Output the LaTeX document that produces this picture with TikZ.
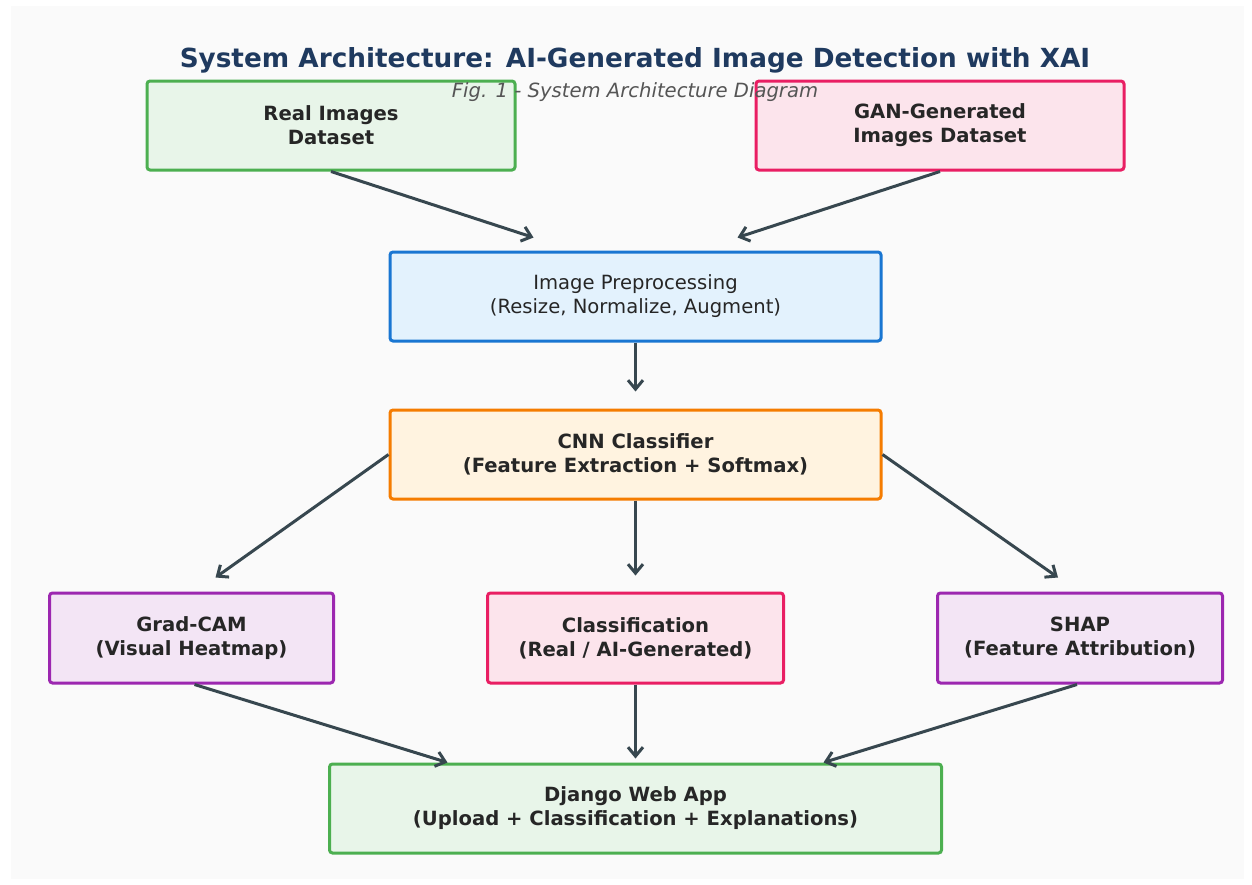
\documentclass[tikz,border=0pt]{standalone}
\usepackage{fontspec}
\setmainfont{DejaVu Sans}
\usepackage{tikz}
\usetikzlibrary{arrows.meta, positioning}
\definecolor{bgpage}{HTML}{FAFAFA}
\definecolor{mytitle}{HTML}{1F3A5F}
\definecolor{mygray}{HTML}{555555}
\definecolor{myarrow}{HTML}{37474F}
\definecolor{mygreen}{HTML}{4CAF50}
\definecolor{mypink}{HTML}{E91E63}
\definecolor{myblue}{HTML}{1976D2}
\definecolor{myorange}{HTML}{F57C00}
\definecolor{mypurple}{HTML}{9C27B0}
\definecolor{hdrgreen}{HTML}{E8F5E9}
\definecolor{hdrpink}{HTML}{FCE4EC}
\definecolor{hdrblue}{HTML}{E3F2FD}
\definecolor{hdrorange}{HTML}{FFF3E0}
\definecolor{hdrpurple}{HTML}{F3E5F5}
\tikzset{
  box/.style={rectangle, align=center, inner sep=0pt, rounded corners=3pt,
    line width=3pt, text=black!85, font=\fontsize{19.6}{24}\selectfont\bfseries},
  greenbox/.style={box, draw=mygreen, fill=hdrgreen},
  pinkbox/.style={box, draw=mypink, fill=hdrpink},
  bluebox/.style={box, draw=myblue, fill=hdrblue,
    font=\fontsize{19.6}{24}\selectfont},
  orangebox/.style={box, draw=myorange, fill=hdrorange},
  purplebox/.style={box, draw=mypurple, fill=hdrpurple},
  arrow/.style={-{Straight Barb[length=9pt,width=15pt]}, line width=3pt,
    color=myarrow}
}
\begin{document}
\begin{tikzpicture}[x=1pt, y=-1pt]
  \useasboundingbox (0,0) rectangle (1252,884);
  \fill[bgpage] (11,6) rectangle (1244,879);

  \node[font=\fontsize{26.3}{30}\selectfont\bfseries, text=mytitle] (title) at (635,60.5)
    {System Architecture: AI-Generated Image Detection with XAI};

  % input datasets
  \node[greenbox, minimum width=368pt, minimum height=89pt] (real) at (331,125.5)
    {Real Images\\Dataset};
  \node[pinkbox, minimum width=368pt, minimum height=89pt] (gan) at (940,125.5)
    {GAN-Generated\\Images Dataset};
  \node[font=\fontsize{19.6}{22}\selectfont\itshape, text=mygray] (sub) at (635,92)
    {Fig. 1 - System Architecture Diagram};

  % main pipeline
  \node[bluebox, minimum width=491pt, minimum height=89pt] (pre) at (635.5,296.5)
    {Image Preprocessing\\(Resize, Normalize, Augment)};
  \node[orangebox, minimum width=491pt, minimum height=89pt, below=66pt of pre] (cnn)
    {CNN Classifier\\(Feature Extraction + Softmax)};
  \node[pinkbox, minimum width=296pt, minimum height=90pt, below=91pt of cnn] (cls)
    {Classification\\(Real / AI-Generated)};
  \node[purplebox, minimum width=284pt, minimum height=90pt, left=151pt of cls] (gradcam)
    {Grad-CAM\\(Visual Heatmap)};
  \node[purplebox, minimum width=285pt, minimum height=90pt, right=151pt of cls] (shap)
    {SHAP\\(Feature Attribution)};
  \node[greenbox, minimum width=612pt, minimum height=89pt, below=78pt of cls] (django)
    {Django Web App\\(Upload + Classification + Explanations)};

  \draw[arrow] (real.south) -- ([xshift=-102pt,yshift=13pt]pre.north);
  \draw[arrow] (gan.south) -- ([xshift=102pt,yshift=13pt]pre.north);
  \draw[arrow] (pre.south) -- ([yshift=17pt]cnn.north);
  \draw[arrow] (cnn.west) -- ([xshift=24pt,yshift=14pt]gradcam.north);
  \draw[arrow] (cnn.south) -- ([yshift=16pt]cls.north);
  \draw[arrow] (cnn.east) -- ([xshift=-22pt,yshift=14pt]shap.north);
  \draw[arrow] ([xshift=3pt]gradcam.south) -- ([xshift=-188pt]django.north);
  \draw[arrow] (cls.south) -- ([yshift=4pt]django.north);
  \draw[arrow] ([xshift=-3pt]shap.south) -- ([xshift=188pt]django.north);
\end{tikzpicture}
\end{document}
